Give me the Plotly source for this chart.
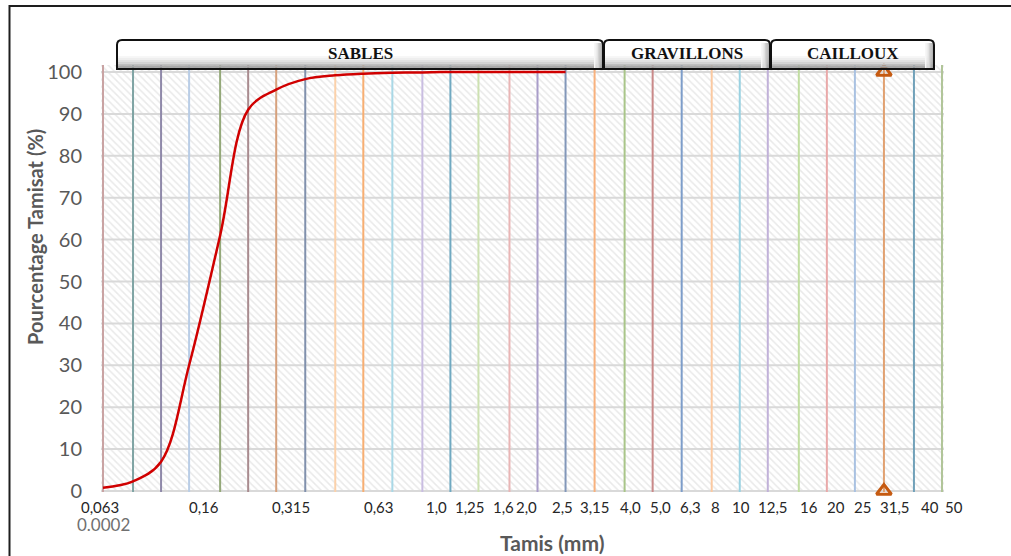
import math
import plotly.graph_objects as go

# Sieve series (mm), one coloured reference line per sieve
sieves = [0.063, 0.08, 0.1, 0.125, 0.16, 0.2, 0.25, 0.315, 0.4, 0.5, 0.63, 0.8,
          1.0, 1.25, 1.6, 2.0, 2.5, 3.15, 4.0, 5.0, 6.3, 8, 10, 12.5, 16, 20, 25,
          31.5, 40, 50]
sieve_colors = ["#c9a3a3", "#7fa4a4", "#8f89a9", "#b9cde6", "#94a879", "#a98b8f",
                "#d6a17c", "#8090ac", "#fbd1aa", "#f7ae72", "#a9d8e6", "#c9bde1",
                "#70a9c1", "#cde1b1", "#e9b5b5", "#a99dc9", "#8297b9", "#f8b17d",
                "#a9c589", "#c98989", "#7d9dc9", "#fbc9a1", "#99d1e1", "#c1b1d9",
                "#c1dda1", "#e9a9a9", "#a9c1e1", "#e1a171", "#71a1b9", "#b1c599"]

# Grading curve of the sand (percent passing)
sand_sieves = [0.063, 0.08, 0.1, 0.125, 0.16, 0.2, 0.25, 0.315, 0.4, 0.5, 0.63,
               0.8, 1.0, 1.25, 1.6, 2.0, 2.5]
sand_passing = [0.8, 2.3, 7.0, 30.0, 61.0, 91.0, 95.8, 98.3, 99.2, 99.6, 99.8,
                99.9, 100, 100, 100, 100, 100]

# Dmax marker
dmax_sieve = [31.5, 31.5]
dmax_passing = [0, 100]

# Axis labels
tick_sieves = [0.063, 0.16, 0.315, 0.63, 1.0, 1.25, 1.6, 2.0, 2.5, 3.15, 4.0,
               5.0, 6.3, 8, 10, 12.5, 16, 20, 25, 31.5, 40, 50]
tick_text = ["0,063", "0,16", "0,315", "0,63", "1,0", "1,25", "1,6", "2,0", "2,5",
             "3,15", "4,0", "5,0", "6,3", "8", "10", "12,5", "16", "20", "25",
             "31,5", "40", "50"]
y_ticks = [0, 10, 20, 30, 40, 50, 60, 70, 80, 90, 100]

classes = ["SABLES", "GRAVILLONS", "CAILLOUX"]

# ---- layout geometry (pixels) ----
FIG_W, FIG_H = 1011, 556
L, T = 101, 65
PW, PH = 843, 427
X_LO_PX, X_HI_PX = 103, 942      # where the first / last sieve sit
Y0_PX, Y100_PX = 491, 72         # where 0 % / 100 % sit

ppd = (X_HI_PX - X_LO_PX) / (math.log10(sieves[-1]) - math.log10(sieves[0]))
xr0 = math.log10(sieves[0]) - (X_LO_PX - L) / ppd
xr1 = math.log10(sieves[-1]) + (L + PW - X_HI_PX) / ppd
ppu = (Y0_PX - Y100_PX) / 100.0
yr0 = -((T + PH) - Y0_PX) / ppu
yr1 = 100 + (Y100_PX - T) / ppu

tick_nudge = [-3, -16, -14, -13, -14, -8, -6, -11, -3, 0, 6, 8, 9, 4, 1, 5,
              10, 9, 8, 11, 16, 12]
class_boxes_px = [(117, 603), (604, 770), (771, 934)]
BOX_TOP, BOX_BOT = 40, 69


def px(xp):
    return (xp - L) / PW


def py(yp):
    return (T + PH - yp) / PH


fig = go.Figure()

# hatched plot area
xa, xb = 10 ** xr0, 10 ** xr1
fig.add_trace(go.Scatter(
    x=[xa, xb, xb, xa, xa], y=[yr0, yr0, yr1, yr1, yr0],
    fill="toself", mode="none", fillcolor="white",
    fillpattern=dict(shape="\\", fgcolor="#d4d4d4", bgcolor="white",
                     size=5, solidity=0.3),
    hoverinfo="skip", showlegend=False))

# horizontal grid
for t in y_ticks:
    fig.add_trace(go.Scatter(x=[xa, xb], y=[t, t], mode="lines",
                             line=dict(color="#d9d9d9", width=2),
                             hoverinfo="skip", showlegend=False))

# sieve lines
for s, c in zip(sieves, sieve_colors):
    fig.add_trace(go.Scatter(x=[s, s], y=[yr0, yr1], mode="lines",
                             line=dict(color=c, width=2),
                             hoverinfo="skip", showlegend=False))

# grading curve
fig.add_trace(go.Scatter(x=sand_sieves, y=sand_passing, mode="lines",
                         line=dict(color="#d00000", width=2.5, shape="spline",
                                   smoothing=1),
                         showlegend=False))

# Dmax triangles
fig.add_trace(go.Scatter(x=dmax_sieve, y=dmax_passing, mode="markers",
                         marker=dict(symbol="triangle-up-open", size=13,
                                     color="#c55a11",
                                     line=dict(color="#c55a11", width=3)),
                         cliponaxis=False, showlegend=False))

shapes = []
# outer frame
shapes.append(dict(type="path", xref="paper", yref="paper",
                   path=f"M {px(9.5)},{py(560)} L {px(9.5)},{py(6)} L {px(1015)},{py(6)}",
                   line=dict(color="#1e1e1e", width=2)))

# class header boxes with a bevel-like shading
shade = ["#f7f7f7", "#eeeeee", "#e2e2e2", "#d2d2d2", "#bfbfbf", "#a9a9a9", "#959595"]
annotations = []
for name, (x0, x1) in zip(classes, class_boxes_px):
    band_top = 56
    step = (BOX_BOT - band_top) / len(shade)
    for i, col in enumerate(shade):
        shapes.append(dict(type="rect", xref="paper", yref="paper",
                           x0=px(x0), x1=px(x1),
                           y0=py(band_top + (i + 1) * step), y1=py(band_top + i * step),
                           fillcolor=col, line=dict(width=0), layer="above"))
    rstep = 9 / len(shade)
    for i, col in enumerate(shade):
        shapes.append(dict(type="rect", xref="paper", yref="paper",
                           x0=px(x1 - 9 + i * rstep), x1=px(x1 - 9 + (i + 1) * rstep),
                           y0=py(BOX_BOT), y1=py(BOX_TOP + 3),
                           fillcolor=col, line=dict(width=0), layer="above"))
    r = 5
    path = (f"M {px(x0)},{py(BOX_BOT)} L {px(x0)},{py(BOX_TOP + r)} "
            f"Q {px(x0)},{py(BOX_TOP)} {px(x0 + r)},{py(BOX_TOP)} "
            f"L {px(x1 - r)},{py(BOX_TOP)} Q {px(x1)},{py(BOX_TOP)} {px(x1)},{py(BOX_TOP + r)} "
            f"L {px(x1)},{py(BOX_BOT)} Z")
    shapes.append(dict(type="path", xref="paper", yref="paper", path=path,
                       line=dict(color="#111111", width=2), layer="above"))
    annotations.append(dict(xref="paper", yref="paper", x=px((x0 + x1) / 2),
                            y=py(54), text=name, showarrow=False,
                            xanchor="center", yanchor="middle",
                            font=dict(family="Liberation Serif", size=17,
                                      color="#111111", weight="bold")))

# x tick labels
for s, lab, dx in zip(tick_sieves, tick_text, tick_nudge):
    annotations.append(dict(xref="x", yref="paper", x=math.log10(s), y=py(507),
                            text=lab, showarrow=False, xanchor="center",
                            yanchor="middle", xshift=dx,
                            font=dict(family="Lato", size=15, color="#262626")))
annotations.append(dict(xref="x", yref="paper", x=math.log10(sieves[0]), y=py(524),
                        text="0.0002", showarrow=False, xanchor="center",
                        yanchor="middle",
                        font=dict(family="Lato", size=17, color="#707070")))

# axis titles
annotations.append(dict(xref="paper", yref="paper", x=px(552), y=py(542),
                        text="Tamis (mm)", showarrow=False, xanchor="center",
                        yanchor="middle",
                        font=dict(family="Lato", size=21, color="#595959",
                                  weight="bold")))
annotations.append(dict(xref="paper", yref="paper", x=px(35), y=py(237),
                        text="Pourcentage Tamisat (%)", showarrow=False,
                        textangle=-90, xanchor="center", yanchor="middle",
                        font=dict(family="Lato", size=20, color="#595959",
                                  weight="bold")))

fig.update_layout(
    width=FIG_W, height=FIG_H,
    margin=dict(l=L, r=FIG_W - L - PW, t=T, b=FIG_H - T - PH),
    paper_bgcolor="white", plot_bgcolor="white",
    xaxis=dict(type="log", range=[xr0, xr1], showgrid=False, zeroline=False,
               showline=False, showticklabels=False, ticks=""),
    yaxis=dict(range=[yr0, yr1], showgrid=False, zeroline=False, showline=False,
               tickvals=y_ticks, ticks="outside", ticklen=14,
               tickcolor="rgba(0,0,0,0)",
               tickfont=dict(family="Lato", size=20, color="#595959")),
    shapes=shapes, annotations=annotations, showlegend=False,
)

fig.write_html("out.html")
